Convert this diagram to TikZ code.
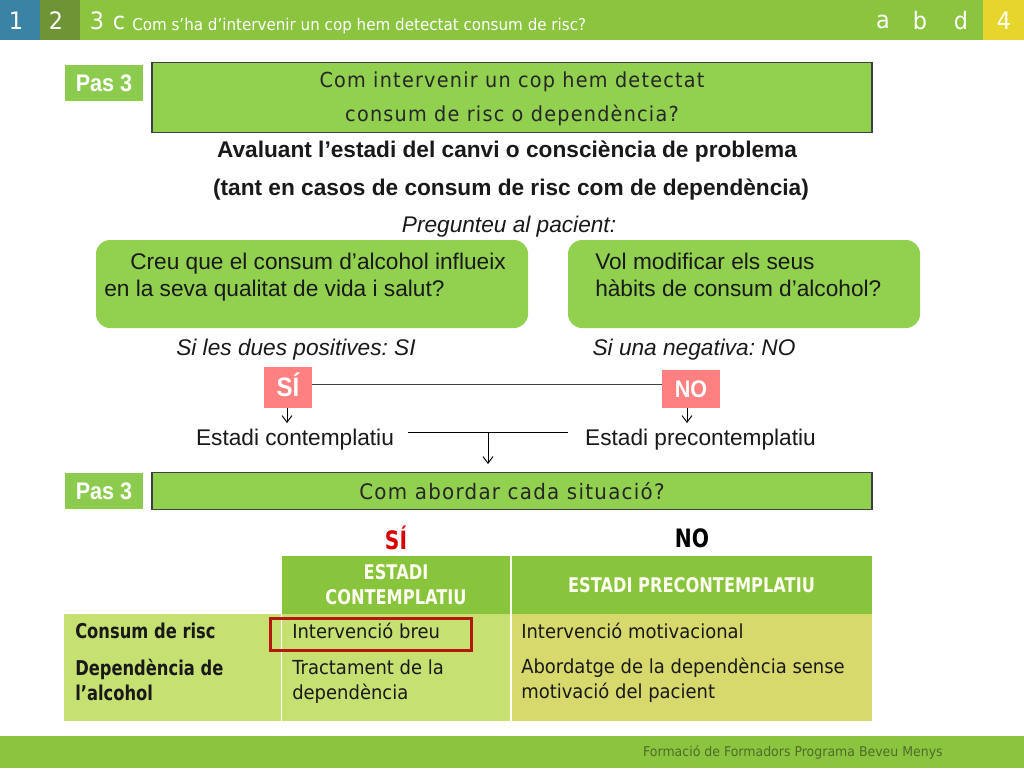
\documentclass[tikz,border=0pt]{standalone}
\usepackage{fontspec}
\setmainfont{Liberation Sans}
\newfontfamily\tah[FakeStretch=0.93]{DejaVu Sans}
\newfontfamily\tahb[FakeStretch=0.8]{DejaVu Sans}
\newfontfamily\tahsp[FakeStretch=0.93,LetterSpace=6]{DejaVu Sans}
\newfontfamily\narrowsans[FakeStretch=0.9]{Liberation Sans}
\usetikzlibrary{positioning,shadows,arrows.meta}
\frenchspacing
\definecolor{barGreen}{HTML}{8BC53F}
\definecolor{boxGreen}{HTML}{92D050}
\definecolor{pasGreen}{HTML}{8CCB4E}
\definecolor{headGreen}{HTML}{88C43C}
\definecolor{rowGreen}{HTML}{C6E172}
\definecolor{rowOlive}{HTML}{D8D96C}
\definecolor{tabBlue}{HTML}{3A83A5}
\definecolor{tabOlive}{HTML}{6F9436}
\definecolor{tabYellow}{HTML}{E6D52B}
\definecolor{pinkBox}{HTML}{FF8080}
\definecolor{frameRed}{HTML}{B4170F}
\definecolor{footText}{HTML}{4F6B2A}
\tikzset{
  x=0.75pt,y=-0.75pt,
  tabnum/.style={font=\tah\fontsize{18}{20}\selectfont,text=white,anchor=center,inner sep=0},
  pas/.style={fill=pasGreen,text=white,font=\narrowsans\bfseries\fontsize{18}{20}\selectfont,minimum width=58.5pt,minimum height=27pt,inner sep=0},
  titlebox/.style={draw=black!75,line width=0.8pt,fill=boxGreen,minimum width=540pt,inner sep=0},
  titletext/.style={text=black!85,font=\tahsp\fontsize{15.5}{25.5}\selectfont,align=center,inner sep=0},
  plain/.style={font=\fontsize{17}{20.25}\selectfont,inner sep=0,text=black!90},
  question/.style={fill=boxGreen,rounded corners=10.5pt,inner sep=0},
  answer/.style={fill=pinkBox,text=white,inner sep=0},
  cell/.style={font=\tah\fontsize{14.5}{18.75}\selectfont,align=left,anchor=west,inner sep=0,text=black!90},
  rowlabel/.style={cell,font=\tahb\bfseries\fontsize{15.3}{18.75}\selectfont},
  head/.style={font=\tahb\bfseries\fontsize{15.2}{18.75}\selectfont,align=center,text=white!95!yellow,inner sep=0},
  arrowline/.style={-{Straight Barb[length=5pt,width=7.5pt]},line width=0.7pt},
}
\begin{document}
\begin{tikzpicture}
\useasboundingbox (0,0) rectangle (1024,768);
\fill[white] (0,0) rectangle (1024,768);
% top bar
\fill[barGreen] (0,0) rectangle (1024,40);
\fill[tabBlue] (0,0) rectangle (40,40);
\fill[tabOlive] (40,0) rectangle (80,40);
\fill[tabYellow] (983,0) rectangle (1024,40);
\node[tabnum] (num1) at (16,21) {1};
\node[tabnum] (num2) at (56,21) {2};
\node[tabnum] (num3) at (97,21) {3};
\node[tabnum] (letC) at (119,23) {c};
\node[font=\tah\fontsize{12.2}{14}\selectfont,text=white,anchor=west,inner sep=0] (subject) at (132,26) {Com s’ha d’intervenir un cop hem detectat consum de risc?};
\node[tabnum] (letA) at (883,22) {a};
\node[tabnum] (letB) at (920,21) {b};
\node[tabnum] (letD) at (961,21) {d};
\node[tabnum] (num4) at (1004,21) {4};
% step one
\node[pas] (pasA) at (104,83) {Pas 3};
\node[titlebox,minimum height=53pt] (titleA) at (512,97.5) {};
\node[titletext] (titleAText) at (512,99) {Com intervenir un cop hem detectat\\consum de risc o dependència?};
\node[plain,font=\bfseries\fontsize{17}{20}\selectfont] (leadA) at (507,152) {Avaluant l’estadi del canvi o consciència de problema};
\node[plain,font=\bfseries\fontsize{17}{20}\selectfont] (leadB) at (511,190) {(tant en casos de consum de risc com de dependència)};
\node[plain,font=\itshape\fontsize{17}{20}\selectfont] (ask) at (509,227) {Pregunteu al pacient:};
% the two questions
\node[question,minimum width=324pt,minimum height=66pt] (qLeft) at (312,284) {};
\node[question,minimum width=264pt,minimum height=66pt] (qRight) at (744,284) {};
\node[plain,anchor=north west,align=left] (qLeftText) at (104,253) {\hspace*{19.5pt}Creu que el consum d’alcohol influeix\\en la seva qualitat de vida i salut?};
\node[plain,anchor=north west,align=left] (qRightText) at (595,253) {Vol modificar els seus\\hàbits de consum d’alcohol?};
\node[plain,font=\itshape\fontsize{17}{20}\selectfont] (ifYes) at (296,350) {Si les dues positives: SI};
\node[plain,font=\itshape\fontsize{17}{20}\selectfont] (ifNo) at (694,350) {Si una negativa: NO};
% answers
\node[answer,minimum width=36pt,minimum height=31pt,text height=18pt,text depth=3.8pt,font=\narrowsans\bfseries\fontsize{20}{22}\selectfont] (si) at (288,387.5) {SÍ};
\node[answer,minimum width=43.5pt,minimum height=28.5pt,font=\narrowsans\bfseries\fontsize{18}{20}\selectfont] (no) at (691,389) {NO};
\node[plain] (contemp) at (295,440) {Estadi contemplatiu};
\node[plain] (precon) at (700.5,440) {Estadi precontemplatiu};
\coordinate (siLine) at (312,384);
\coordinate (noLine) at (662,384);
\coordinate (siFoot) at (287,408);
\coordinate (siTip) at (287,423);
\coordinate (noFoot) at (687,408);
\coordinate (noTip) at (687,423);
\coordinate (barL) at (408,432);
\coordinate (barR) at (568,432);
\coordinate (barM) at (488,432);
\coordinate (barTip) at (488,464);
\draw[line width=0.7pt,color=black!75] (siLine) -- (noLine);
\draw[arrowline] (siFoot) -- (siTip);
\draw[arrowline] (noFoot) -- (noTip);
\draw[line width=0.6pt] (barL) -- (barR);
\draw[arrowline] (barM) -- (barTip);
% step two
\node[pas] (pasB) at (104,491) {Pas 3};
\node[titlebox,minimum height=28pt,line width=1pt] (titleB) at (512,491) {};
\node[titletext,font=\tahsp\fontsize{16}{20}\selectfont] (titleBText) at (512,491) {Com abordar cada situació?};
\node[font=\tahb\bfseries\fontsize{19}{20}\selectfont,text=red!85!black,inner sep=0] (colSi) at (396,538) {SÍ};
\node[font=\tahb\bfseries\fontsize{19}{20}\selectfont,inner sep=0] (colNo) at (692,538) {NO};
% table
\fill[headGreen] (282,556) rectangle (510,614);
\fill[headGreen] (511.5,556) rectangle (872,614);
\fill[rowGreen] (64,614) rectangle (280.5,721);
\fill[rowGreen] (282,614) rectangle (510,721);
\fill[rowOlive] (511.5,614) rectangle (872,721);
\node[head] (headA) at (396,585) {ESTADI\\CONTEMPLATIU};
\node[head] (headB) at (691.5,585) {ESTADI PRECONTEMPLATIU};
\node[rowlabel] (rowA) at (75,631) {Consum de risc};
\node[rowlabel] (rowB) at (75,679.5) {Dependència de\\l’alcohol};
\node[cell] (cellAA) at (292,631) {Intervenció breu};
\node[cell] (cellAB) at (292,682) {Tractament de la\\dependència};
\node[cell] (cellBA) at (521,631) {Intervenció motivacional};
\node[cell] (cellBB) at (521,680.5) {Abordatge de la dependència sense\\motivació del pacient};
\draw[line width=2.3pt,color=frameRed] (270.5,618.5) rectangle (471.5,650.5);
% footer
\fill[barGreen] (0,736) rectangle (1024,768);
\node[font=\tah\fontsize{10.1}{12}\selectfont,text=footText,anchor=east,inner sep=0] (foot) at (943,753) {Formació de Formadors Programa Beveu Menys};
\end{tikzpicture}
\end{document}
